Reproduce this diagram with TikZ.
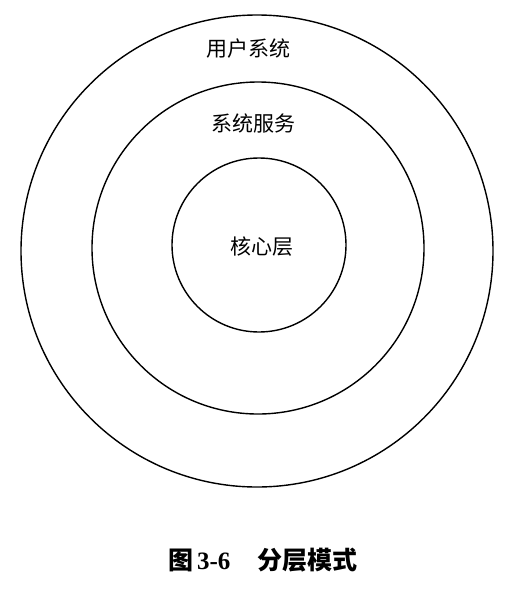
\documentclass[tikz,border=0pt]{standalone}
\usepackage{fontspec}
\setmainfont{Liberation Serif}
\newfontfamily\cjk{Noto Sans CJK SC}
\begin{document}
\begin{tikzpicture}[x=1pt, y=-1pt, line join=round, line cap=round, font=\cjk\fontsize{21}{21}\selectfont]
			\tikzset{ring/.style={line width=1.4pt}}
			\useasboundingbox (0,0) rectangle (517,600);
			\path
			(257,251) coordinate (O1)
			(258,248) coordinate (O2)
			(259,245) coordinate (O3)
			;
			\draw[ring] (O1) circle (236pt);
			\draw[ring] (O2) circle (166pt);
			\draw[ring] (O3) circle (87pt);
			\foreach \n/\p/\t in {user/{(248,49)}/用户系统, service/{(253,123)}/系统服务, core/{(262,247)}/核心层}
			\node (\n) at \p {\t};
			\node (caption) at (263,560) {\fontsize{25}{25}\selectfont\bfseries 图\,{\rmfamily 3-6}\hspace{1.1em}分层模式};
			\end{tikzpicture}
\end{document}
